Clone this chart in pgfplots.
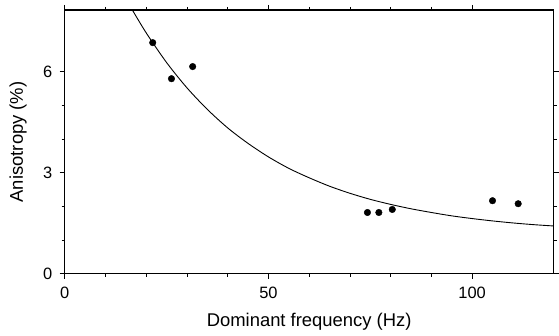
\documentclass[border=0pt]{standalone}
\usepackage{fontspec}
\setmainfont{Liberation Sans}
\usepackage{pgfplots}
\pgfplotsset{compat=1.18}
\begin{document}
\begin{tikzpicture}
\begin{axis}[
  scale only axis,
  width=491pt, height=265pt,
  xmin=0, xmax=120, ymin=0, ymax=7.83,
  xtick={0,50,100}, ytick={0,3,6},
  minor x tick num=4, minor y tick num=2,
  tick align=outside,
  major tick length=5pt, minor tick length=3pt,
  axis line style={line width=1.1pt},
  every tick/.style={black, line width=0.8pt},
  /pgf/number format/assume math mode=true,
  ticklabel style={font=\fontsize{16.5}{20}\selectfont},
  xlabel={Dominant frequency (Hz)},
  ylabel={Anisotropy (\%)},
  xticklabel style={yshift=-4.5pt},
  yticklabel style={xshift=-4pt},
  every axis x label/.style={at={(axis description cs:0.5,-0.2)}, anchor=base, font=\fontsize{18.5}{22}\selectfont},
  every axis y label/.style={at={(axis description cs:-0.0955,0.5)}, anchor=center, rotate=90, font=\fontsize{18.5}{22}\selectfont},
  clip=true,
]
\coordinate (tl) at (rel axis cs:0,1);
\coordinate (br) at (rel axis cs:1,0);
\addplot[black, line width=0.9pt, smooth] coordinates {
(16.6,7.83) (20,7.15) (25,6.27) (30,5.52) (35,4.88) (40,4.33) (45,3.87)
(50,3.47) (55,3.13) (60,2.85) (65,2.60) (70,2.39) (75,2.21) (80,2.06)
(85,1.93) (90,1.82) (95,1.72) (100,1.64) (105,1.57) (110,1.51) (115,1.46) (120,1.42)
};
\addplot[only marks, mark=*, mark size=3.3pt, black] coordinates {
(21.6,6.86) (26.2,5.79) (31.4,6.15) (74.3,1.82) (77.1,1.82) (80.4,1.91) (105.0,2.17) (111.3,2.08)
};
\end{axis}
\path (tl) ++(-65pt,10pt);
\path (br) ++(3pt,-62pt);
\end{tikzpicture}
\end{document}
